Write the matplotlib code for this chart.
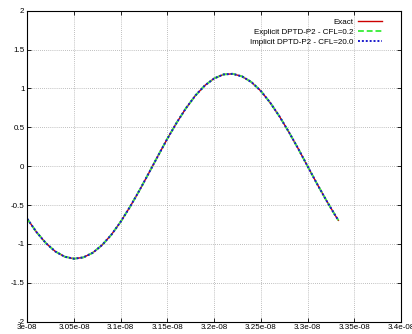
import matplotlib
matplotlib.use("Agg")
import matplotlib.pyplot as plt
import numpy as np

plt.rcParams['font.family'] = ['Liberation Sans', 'DejaVu Sans']

# time samples (units of 1e-8 s) and field values
t = [3.000, 3.010, 3.020, 3.030, 3.040, 3.050, 3.060, 3.070, 3.080, 3.090,
     3.100, 3.110, 3.120, 3.130, 3.140, 3.150, 3.160, 3.170, 3.180, 3.190,
     3.200, 3.210, 3.220, 3.230, 3.240, 3.250, 3.260, 3.270, 3.280, 3.290,
     3.300, 3.310, 3.320, 3.330, 3.333]
y_exact = [-0.678, -0.850, -0.991, -1.097, -1.164, -1.190, -1.173, -1.114, -1.015, -0.881,
           -0.714, -0.521, -0.312, -0.090, 0.135, 0.356, 0.562, 0.749, 0.910, 1.038,
           1.129, 1.180, 1.188, 1.154, 1.081, 0.967, 0.817, 0.639, 0.439, 0.225,
           0.000, -0.224, -0.438, -0.640, -0.696]
y_explicit = list(y_exact)
y_implicit = list(y_exact)

x = np.array(t) * 1e-8

fig = plt.figure(figsize=(4.12, 3.34), dpi=100)
ax = fig.add_axes([27.3 / 412, 12.3 / 334, 373.7 / 412, 311 / 334])

ax.plot(x, y_exact, color='#cc0000', lw=1.0, label='Exact')
ax.plot(x, y_explicit, color='#44ee44', lw=1.4, ls=(0, (3, 1.5)),
        label='Explicit DPTD-P2 - CFL=0.2')
ax.plot(x, y_implicit, color='#1a1acc', lw=1.4, ls=(0, (1, 1)),
        label='Implicit DPTD-P2 - CFL=20.0')

ax.set_xlim(3.0e-8, 3.4e-8)
ax.set_ylim(-2, 2)
xt = np.arange(3.0, 3.41, 0.05) * 1e-8
ax.set_xticks(xt)
ax.set_xticklabels(['3e-08', '3.05e-08', '3.1e-08', '3.15e-08', '3.2e-08',
                    '3.25e-08', '3.3e-08', '3.35e-08', '3.4e-08'])
ax.set_yticks([-2, -1.5, -1, -0.5, 0, 0.5, 1, 1.5, 2])
ax.set_yticklabels(['-2', '-1.5', '-1', '-0.5', '0', '0.5', '1', '1.5', '2'])

ax.tick_params(direction='in', length=3, width=0.6, labelsize=5.8, pad=2,
               top=True, right=True)
ax.grid(True, color='#aaaaaa', ls=(0, (1, 1.5)), lw=0.6)
for s in ax.spines.values():
    s.set_linewidth(0.8)

leg = ax.legend(loc='upper right', bbox_to_anchor=(0.965, 0.995), frameon=False,
                fontsize=5.8, markerfirst=False, handlelength=3.0,
                labelspacing=0.3, handletextpad=0.6, borderpad=0.2)

fig.savefig('out.png', dpi=100)
